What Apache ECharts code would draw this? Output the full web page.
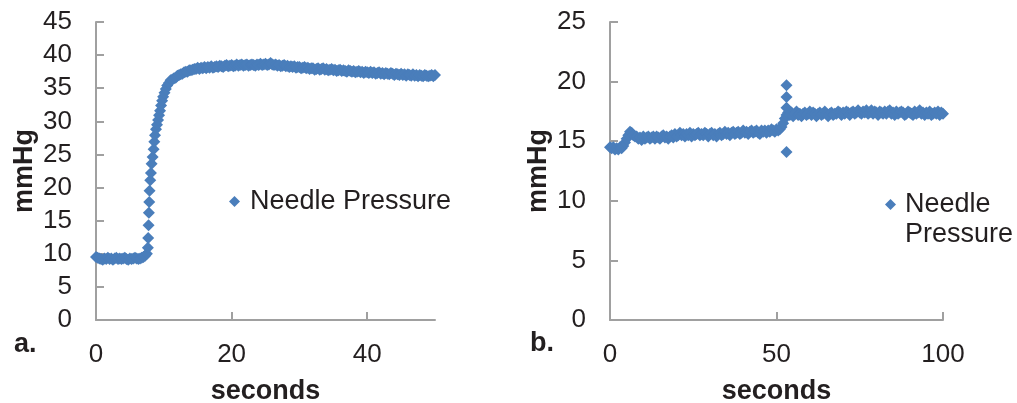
<!DOCTYPE html>
<html>
<head>
<meta charset="utf-8">
<script src="https://cdn.jsdelivr.net/npm/echarts@6/dist/echarts.min.js"></script>
<style>
  html, body { margin: 0; padding: 0; background: #fff; }
  #chart { width: 1017px; height: 403px; }
</style>
</head>
<body>
<div id="chart"></div>
<script>
// panel a: needle pressure (mmHg) over 50 seconds
var timeA = [
  0, 0.25, 0.5, 0.75, 1, 1.25, 1.5, 1.75, 2, 2.25, 2.5, 2.75, 3, 3.25, 3.5, 3.75,
  4, 4.25, 4.5, 4.75, 5, 5.25, 5.5, 5.75, 6, 6.25, 6.5, 6.75, 7, 7.25, 7.5,
  7.65, 7.7, 7.75, 7.8, 7.85, 7.9, 8, 8.1, 8.2, 8.35, 8.5, 8.6, 8.7, 8.85, 9, 9.15, 9.3, 9.45, 9.6, 9.75, 9.9,
  10.1, 10.3, 10.5, 10.75,
  11, 11.25, 11.5, 11.75, 12, 12.25, 12.5, 12.75, 13, 13.25, 13.5, 13.75, 14, 14.25, 14.5, 14.75,
  15, 15.25, 15.5, 15.75, 16, 16.25, 16.5, 16.75, 17, 17.25, 17.5, 17.75, 18, 18.25, 18.5, 18.75,
  19, 19.25, 19.5, 19.75, 20, 20.25, 20.5, 20.75, 21, 21.25, 21.5, 21.75, 22, 22.25, 22.5, 22.75,
  23, 23.25, 23.5, 23.75, 24, 24.25, 24.5, 24.75, 25, 25.25, 25.5, 25.75, 26, 26.25, 26.5, 26.75,
  27, 27.25, 27.5, 27.75, 28, 28.25, 28.5, 28.75, 29, 29.25, 29.5, 29.75, 30, 30.25, 30.5, 30.75,
  31, 31.25, 31.5, 31.75, 32, 32.25, 32.5, 32.75, 33, 33.25, 33.5, 33.75, 34, 34.25, 34.5, 34.75,
  35, 35.25, 35.5, 35.75, 36, 36.25, 36.5, 36.75, 37, 37.25, 37.5, 37.75, 38, 38.25, 38.5, 38.75,
  39, 39.25, 39.5, 39.75, 40, 40.25, 40.5, 40.75, 41, 41.25, 41.5, 41.75, 42, 42.25, 42.5, 42.75,
  43, 43.25, 43.5, 43.75, 44, 44.25, 44.5, 44.75, 45, 45.25, 45.5, 45.75, 46, 46.25, 46.5, 46.75,
  47, 47.25, 47.5, 47.75, 48, 48.25, 48.5, 48.75, 49, 49.25, 49.5, 49.75, 50
];
var pressureA = [
  9.5, 9.4, 9.3, 9.2, 9.1, 9.3, 9.2, 9.4, 9.2, 9.3, 9.1, 9.3, 9.4, 9.2, 9.3, 9.2,
  9.3, 9.4, 9.2, 9.1, 9.3, 9.2, 9.3, 9.4, 9.3, 9.2, 9.3, 9.4, 9.5, 9.7, 10.0,
  10.9, 12.4, 14.3, 16.2, 17.8, 19.5, 21.1, 22.2, 23.6, 24.6, 25.8, 26.9, 27.9, 28.8, 29.5, 30.2, 30.9, 31.6, 32.4, 33.1, 33.7,
  34.3, 34.9, 35.4, 35.8,
  36.2, 36.3, 36.5, 36.6, 36.9, 37.0, 37.1, 37.2, 37.4, 37.5, 37.5, 37.7, 37.7, 37.8, 37.9, 37.9,
  38.1, 37.9, 38.1, 38.0, 38.2, 38.0, 38.2, 38.1, 38.3, 38.1, 38.2, 38.3, 38.2, 38.4, 38.3, 38.2,
  38.4, 38.5, 38.3, 38.4, 38.5, 38.3, 38.4, 38.6, 38.4, 38.5, 38.6, 38.4, 38.5, 38.6, 38.4, 38.5,
  38.6, 38.5, 38.4, 38.6, 38.5, 38.7, 38.5, 38.6, 38.7, 38.5, 38.6, 38.8, 38.6, 38.5, 38.6, 38.4,
  38.5, 38.3, 38.4, 38.5, 38.3, 38.4, 38.2, 38.3, 38.2, 38.3, 38.1, 38.2, 38.2, 38.0, 38.1, 38.2,
  38.0, 38.1, 37.9, 38.0, 38.0, 37.8, 37.9, 38.0, 37.8, 37.9, 38.0, 37.8, 37.9, 37.7, 37.8, 37.9,
  37.7, 37.8, 37.6, 37.7, 37.8, 37.6, 37.7, 37.6, 37.5, 37.7, 37.6, 37.5, 37.6, 37.4, 37.5, 37.6,
  37.4, 37.5, 37.3, 37.5, 37.4, 37.3, 37.5, 37.3, 37.4, 37.2, 37.3, 37.4, 37.2, 37.3, 37.1, 37.3,
  37.2, 37.1, 37.3, 37.2, 37.0, 37.2, 37.1, 37.0, 37.2, 37.0, 37.1, 36.9, 37.1, 37.0, 36.9, 37.1,
  36.9, 37.0, 36.8, 37.0, 36.9, 36.8, 37.0, 36.9, 36.8, 36.9, 37.0, 36.8, 37.0
];

// panel b: needle pressure (mmHg) over 100 seconds
var timeB = [
  0, 0.5, 1, 1.5, 2, 2.5, 3, 3.5,
  4, 4.5, 5, 5.5, 6, 6.5, 7, 7.5,
  8, 8.5, 9, 9.5, 10, 10.5, 11, 11.5, 12, 12.5,
  13, 13.5, 14, 14.5, 15, 15.5, 16, 16.5, 17, 17.5,
  18, 18.5, 19, 19.5, 20, 20.5, 21, 21.5, 22, 22.5,
  23, 23.5, 24, 24.5, 25, 25.5, 26, 26.5, 27, 27.5,
  28, 28.5, 29, 29.5, 30, 30.5, 31, 31.5, 32, 32.5,
  33, 33.5, 34, 34.5, 35, 35.5, 36, 36.5, 37, 37.5,
  38, 38.5, 39, 39.5, 40, 40.5, 41, 41.5, 42, 42.5,
  43, 43.5, 44, 44.5, 45, 45.5, 46, 46.5, 47, 47.5,
  48, 48.5, 49, 49.5, 50, 50.5,
  51, 51.5, 52, 52.5, 53, 53.5,
  53, 53, 53, 53,
  54, 54.5, 55, 55.5, 56, 56.5, 57, 57.5,
  58, 58.5, 59, 59.5, 60, 60.5, 61, 61.5, 62, 62.5,
  63, 63.5, 64, 64.5, 65, 65.5, 66, 66.5, 67, 67.5,
  68, 68.5, 69, 69.5, 70, 70.5, 71, 71.5, 72, 72.5,
  73, 73.5, 74, 74.5, 75, 75.5, 76, 76.5, 77, 77.5,
  78, 78.5, 79, 79.5, 80, 80.5, 81, 81.5, 82, 82.5,
  83, 83.5, 84, 84.5, 85, 85.5, 86, 86.5, 87, 87.5,
  88, 88.5, 89, 89.5, 90, 90.5, 91, 91.5, 92, 92.5,
  93, 93.5, 94, 94.5, 95, 95.5, 96, 96.5, 97, 97.5,
  98, 98.5, 99, 99.5, 100
];
var pressureB = [
  14.5, 14.4, 14.5, 14.3, 14.4, 14.3, 14.5, 14.4,
  14.6, 14.9, 15.2, 15.5, 15.8, 15.7, 15.5, 15.4,
  15.4, 15.2, 15.3, 15.1, 15.4, 15.2, 15.3, 15.4, 15.2, 15.3,
  15.4, 15.2, 15.4, 15.3, 15.2, 15.4, 15.5, 15.3, 15.4, 15.2,
  15.4, 15.5, 15.3, 15.6, 15.4, 15.5, 15.7, 15.5, 15.6, 15.4,
  15.6, 15.5, 15.7, 15.4, 15.6, 15.5, 15.6, 15.7, 15.5, 15.6,
  15.5, 15.7, 15.6, 15.4, 15.6, 15.7, 15.5, 15.6, 15.4, 15.6,
  15.7, 15.5, 15.6, 15.8, 15.6, 15.7, 15.5, 15.7, 15.8, 15.6,
  15.7, 15.8, 15.6, 15.7, 15.9, 15.7, 15.8, 15.6, 15.8, 15.9,
  15.7, 15.8, 15.9, 15.7, 15.6, 15.9, 15.8, 15.9, 15.7, 15.9,
  15.8, 16.0, 15.9, 15.8, 16.0, 15.9,
  16.0, 16.2, 16.5, 16.9, 17.2, 17.4,
  19.7, 18.7, 17.8, 14.1,
  17.2, 17.4, 17.1, 17.3, 17.5, 17.2, 17.3, 17.1,
  17.3, 17.4, 17.2, 17.3, 17.5, 17.2, 17.4, 17.3, 17.1, 17.3,
  17.4, 17.2, 17.3, 17.5, 17.3, 17.1, 17.3, 17.4, 17.2, 17.3,
  17.3, 17.5, 17.4, 17.2, 17.4, 17.3, 17.5, 17.4, 17.2, 17.4,
  17.5, 17.3, 17.4, 17.6, 17.4, 17.3, 17.5, 17.4, 17.6, 17.3,
  17.4, 17.6, 17.3, 17.5, 17.4, 17.2, 17.5, 17.4, 17.3, 17.5,
  17.3, 17.5, 17.6, 17.3, 17.4, 17.2, 17.5, 17.3, 17.4, 17.5,
  17.4, 17.2, 17.3, 17.5, 17.4, 17.3, 17.2, 17.5, 17.3, 17.4,
  17.6, 17.3, 17.4, 17.2, 17.4, 17.3, 17.5, 17.2, 17.3, 17.4,
  17.3, 17.5, 17.2, 17.4, 17.3
];

var ticksA = [0, 20, 40];
var ticksB = [0, 50, 100];

function pairs(xs, ys) {
  var out = [];
  for (var i = 0; i < xs.length; i++) out.push([xs[i], ys[i]]);
  return out;
}

var FONT = 'Liberation Sans, Arial, sans-serif';
var TEXT = '#231f20';
var AXIS = '#a0a0a0';
var BLUE = '#4a7ebb';

function xAxisOf(idx, max, ticks) {
  return {
    type: 'value', gridIndex: idx, min: 0, max: max, interval: ticks[1],
    name: 'seconds', nameLocation: 'middle', nameGap: 58,
    nameTextStyle: { fontFamily: FONT, fontSize: 27, fontWeight: 'bold', color: TEXT },
    axisLine: { lineStyle: { color: AXIS, width: 2 } },
    axisTick: { inside: true, length: 8, lineStyle: { color: AXIS, width: 2 }, customValues: ticks.slice(1) },
    axisLabel: { fontFamily: FONT, fontSize: 26, color: TEXT, margin: 22, customValues: ticks },
    splitLine: { show: false }
  };
}

function yAxisOf(idx, max) {
  return {
    type: 'value', gridIndex: idx, min: 0, max: max, interval: 5,
    name: 'mmHg', nameLocation: 'middle', nameGap: 58, nameRotate: 90,
    nameTextStyle: { fontFamily: FONT, fontSize: 27, fontWeight: 'bold', color: TEXT },
    axisLine: { show: true, lineStyle: { color: AXIS, width: 2 } },
    axisTick: { show: true, inside: true, length: 8, lineStyle: { color: AXIS, width: 2 } },
    axisLabel: { fontFamily: FONT, fontSize: 26, color: TEXT, margin: 24 },
    splitLine: { show: false }
  };
}

var chart = echarts.init(document.getElementById('chart'));

var option = {
  animation: false,
  backgroundColor: '#fff',
  grid: [
    { left: 96, top: 22, width: 339, height: 298, outerBoundsMode: 'none' },
    { left: 610, top: 22, width: 333, height: 298, outerBoundsMode: 'none' }
  ],
  xAxis: [xAxisOf(0, 50, ticksA), xAxisOf(1, 100, ticksB)],
  yAxis: [yAxisOf(0, 45), yAxisOf(1, 25)],
  legend: [
    {
      data: ['Needle Pressure'], left: 229, top: 188, padding: 0,
      icon: 'diamond', itemWidth: 11, itemHeight: 11, selectedMode: false,
      textStyle: { fontFamily: FONT, fontSize: 27, color: TEXT, padding: [0, 0, 0, 5] }
    },
    {
      data: ['Needle Pressure'], left: 885, top: 191, padding: 0,
      icon: 'diamond', itemWidth: 11, itemHeight: 11, selectedMode: false,
      formatter: function () { return 'Needle'; },
      textStyle: { fontFamily: FONT, fontSize: 27, color: TEXT, padding: [0, 0, 0, 4] }
    }
  ],
  graphic: [
    { type: 'text', left: 905, top: 221, style: { text: 'Pressure', font: '27px ' + FONT, fill: TEXT } },
    { type: 'text', left: 14, top: 331, style: { text: 'a.', font: 'bold 27px ' + FONT, fill: TEXT } },
    { type: 'text', left: 530, top: 330, style: { text: 'b.', font: 'bold 27px ' + FONT, fill: TEXT } }
  ],
  series: [
    {
      name: 'Needle Pressure', type: 'scatter', xAxisIndex: 0, yAxisIndex: 0,
      symbol: 'diamond', symbolSize: 12, itemStyle: { color: BLUE, opacity: 1 },
      data: pairs(timeA, pressureA)
    },
    {
      name: 'Needle Pressure', type: 'scatter', xAxisIndex: 1, yAxisIndex: 1,
      symbol: 'diamond', symbolSize: 12, itemStyle: { color: BLUE, opacity: 1 },
      data: pairs(timeB, pressureB)
    }
  ]
};

chart.setOption(option);
</script>
</body>
</html>
